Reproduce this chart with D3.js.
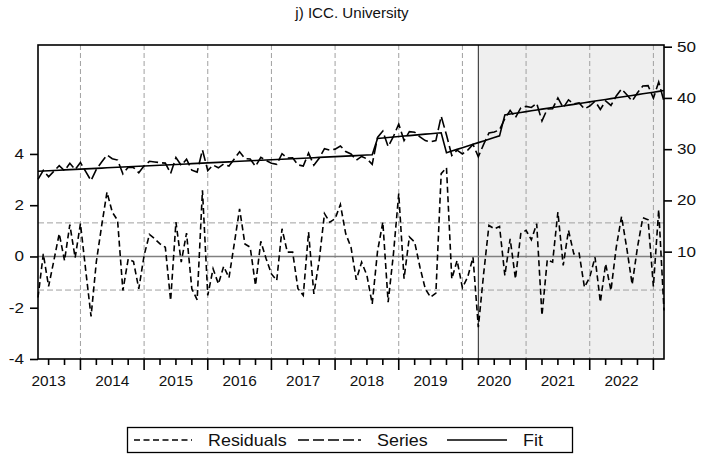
<!DOCTYPE html>
<html>
<head>
<meta charset="utf-8">
<script src="https://cdn.jsdelivr.net/npm/d3@7"></script>
<style>
  body { margin: 0; background: #fff; }
  text { font-family: "Liberation Sans", Arial, sans-serif; fill: #111; }
</style>
</head>
<body>
<div id="chart"></div>
<script>
// monthly observations, first one is 2013M05
var startYear = 2013, startMonth = 5;

var residuals = [-1.6, 0.1, -1.17, -0.15, 0.89, -0.16, 1.24, -0.05, 1.28, -0.55,
  -2.34, -0.2, 1.2, 2.51, 1.73, 1.41, -1.33, -0.1, -0.2, -1.26,
  0.04, 0.86, 0.69, 0.49, 0.36, -1.72, 1.34, -0.22, 0.91, -1.26,
  -1.69, 2.58, -1.52, -0.48, -1.07, -0.39, -0.83, 0.5, 1.86, 0.49,
  0.36, -1.13, 0.59, -0.09, -0.68, -0.94, 1.08, 0.17, 0.17, -1.26,
  -1.52, 0.95, -1.46, -0.16, 1.67, 1.34, 1.47, 2.03, 0.89, 0.36,
  -0.91, -0.22, -0.74, -1.85, 0.2, 1.34, -1.78, 0.1, 2.45, -0.87,
  0.76, 0.56, -0.42, -1.26, -1.59, -1.43, 3.23, 3.46, -0.87, -0.16,
  -1.22, -0.8, -0.03, -2.76, -0.68, 1.21, 1.08, 1.17, -0.74, 0.69,
  -0.87, 0.89, 1.02, 0.65, 1.28, -2.3, -0.13, -0.22, 1.73, -0.35,
  1.02, 0.1, 0.13, -1.2, -0.81, -0.03, -1.78, -0.29, -1.33, 0.36,
  1.56, 0.3, -1.09, 0.36, 1.51, 1.43, -1.17, 1.82, -2.11];

var series = [24.10, 25.85, 24.63, 25.70, 26.79, 25.79, 27.24, 26.01, 27.39, 25.61,
  23.87, 26.06, 27.51, 28.87, 28.14, 27.87, 25.18, 26.46, 26.41, 25.41,
  26.76, 27.63, 27.51, 27.36, 27.28, 25.25, 28.36, 26.85, 28.03, 25.91,
  25.53, 29.85, 25.81, 26.90, 26.36, 27.09, 26.70, 28.08, 29.49, 28.17,
  28.09, 26.65, 28.42, 27.79, 27.26, 27.05, 29.12, 28.26, 28.31, 26.93,
  26.72, 29.24, 26.88, 28.23, 30.11, 29.83, 30.01, 30.63, 29.54, 29.06,
  27.84, 28.58, 28.11, 27.05, 32.30, 33.53, 30.50, 32.48, 34.92, 31.69,
  33.41, 33.30, 32.41, 31.67, 31.43, 31.68, 36.43, 32.76, 28.76, 29.80,
  29.07, 29.82, 30.92, 28.52, 30.93, 33.15, 33.35, 33.77, 35.96, 37.55,
  36.15, 38.06, 38.35, 38.14, 38.93, 35.51, 37.83, 37.90, 40.01, 38.09,
  39.62, 38.85, 39.04, 37.87, 38.42, 39.36, 37.76, 39.41, 38.53, 40.38,
  41.74, 40.63, 39.40, 41.01, 42.32, 42.40, 39.95, 43.10, 39.33];

var fit = [25.70, 25.75, 25.80, 25.85, 25.90, 25.95, 26.00, 26.06, 26.11, 26.16,
  26.21, 26.26, 26.31, 26.36, 26.41, 26.46, 26.51, 26.56, 26.61, 26.67,
  26.72, 26.77, 26.82, 26.87, 26.92, 26.97, 27.02, 27.07, 27.12, 27.17,
  27.22, 27.27, 27.33, 27.38, 27.43, 27.48, 27.53, 27.58, 27.63, 27.68,
  27.73, 27.78, 27.83, 27.88, 27.94, 27.99, 28.04, 28.09, 28.14, 28.19,
  28.24, 28.29, 28.34, 28.39, 28.44, 28.49, 28.54, 28.60, 28.65, 28.70,
  28.75, 28.80, 28.85, 28.90, 32.10, 32.19, 32.28, 32.38, 32.47, 32.56,
  32.65, 32.74, 32.83, 32.93, 33.02, 33.11, 33.20, 29.30, 29.63, 29.96,
  30.29, 30.62, 30.95, 31.28, 31.61, 31.94, 32.27, 32.60, 36.70, 36.86,
  37.02, 37.17, 37.33, 37.49, 37.65, 37.81, 37.96, 38.12, 38.28, 38.44,
  38.60, 38.75, 38.91, 39.07, 39.23, 39.39, 39.54, 39.70, 39.86, 40.02,
  40.18, 40.33, 40.49, 40.65, 40.81, 40.97, 41.12, 41.28, 41.44];

var leftTicks = [-4, -2, 0, 2, 4];
var rightTicks = [10, 20, 30, 40, 50];
var yearLabels = [2013, 2014, 2015, 2016, 2017, 2018, 2019, 2020, 2021, 2022];
var seBand = 1.31;          // +/- 1 S.E. lines
var shadeFrom = "2020-04";  // forecast period start

var W = 703, H = 463;
var pLeft = 38, pRight = 664, pTop = 45, pBottom = 359;

// month index -> "YYYY-MM"
var months = residuals.map(function(d, i) {
  var m = startMonth - 1 + i;
  var yy = startYear + Math.floor(m / 12), mm = (m % 12) + 1;
  return { i: i, year: yy, month: mm, key: yy + "-" + (mm < 10 ? "0" : "") + mm };
});

var x = d3.scaleLinear().domain([0, residuals.length - 1]).range([pLeft, pRight]);
var yL = d3.scaleLinear().domain([-4, 8.25]).range([pBottom, pTop]);
var yR = d3.scaleLinear().domain([-10.95, 50.33]).range([pBottom, pTop]);

// the original's lettering is a little wider than Liberation Sans
function widen(sel, sx) {
  sel.each(function() {
    var t = d3.select(this);
    var tx = +t.attr("x") || 0, ty = +t.attr("y") || 0;
    t.attr("transform", (t.attr("transform") || "") +
      " translate(" + tx + "," + ty + ") scale(" + sx + ",1) translate(" + (-tx) + "," + (-ty) + ")");
  });
}

var svg = d3.select("#chart").append("svg")
  .attr("width", W)
  .attr("height", H);

svg.append("text")
  .attr("x", 352)
  .attr("y", 18)
  .attr("text-anchor", "middle")
  .style("font-size", "14px")
  .text("j)  ICC. University")
  .call(widen, 1.08);

// shaded forecast period
var shadeIdx = months.find(function(m) { return m.key === shadeFrom; }).i;
svg.append("rect")
  .attr("x", x(shadeIdx))
  .attr("y", pTop)
  .attr("width", pRight - x(shadeIdx))
  .attr("height", pBottom - pTop)
  .attr("fill", "#efefef");
svg.append("line")
  .attr("x1", x(shadeIdx)).attr("x2", x(shadeIdx))
  .attr("y1", pTop).attr("y2", pBottom)
  .attr("stroke", "#222")
  .attr("stroke-width", 1);

// year gridlines (January)
var januaries = months.filter(function(m) { return m.month === 1; });
svg.selectAll(".vgrid")
  .data(januaries)
  .enter().append("line")
  .attr("class", "vgrid")
  .attr("x1", function(d) { return x(d.i); })
  .attr("x2", function(d) { return x(d.i); })
  .attr("y1", pTop).attr("y2", pBottom)
  .attr("stroke", "#a0a0a0")
  .attr("stroke-width", 1)
  .attr("stroke-dasharray", "5,3");

// S.E. band and zero line
svg.selectAll(".hgrid")
  .data([seBand, -seBand])
  .enter().append("line")
  .attr("x1", pLeft).attr("x2", pRight)
  .attr("y1", function(d) { return yL(d); })
  .attr("y2", function(d) { return yL(d); })
  .attr("stroke", "#a0a0a0")
  .attr("stroke-width", 1)
  .attr("stroke-dasharray", "6,3");

svg.append("line")
  .attr("x1", pLeft).attr("x2", pRight)
  .attr("y1", yL(0)).attr("y2", yL(0))
  .attr("stroke", "#808080")
  .attr("stroke-width", 1.5);

// lines
var lineL = d3.line()
  .x(function(d, i) { return x(i); })
  .y(function(d) { return yL(d); });
var lineR = d3.line()
  .x(function(d, i) { return x(i); })
  .y(function(d) { return yR(d); });

svg.append("path")
  .attr("d", lineL(residuals))
  .attr("fill", "none")
  .attr("stroke", "#000")
  .attr("stroke-width", 1.6)
  .attr("stroke-dasharray", "6,3.5");

svg.append("path")
  .attr("d", lineR(series))
  .attr("fill", "none")
  .attr("stroke", "#000")
  .attr("stroke-width", 1.6)
  .attr("stroke-dasharray", "11,4");

svg.append("path")
  .attr("d", lineR(fit))
  .attr("fill", "none")
  .attr("stroke", "#000")
  .attr("stroke-width", 1.6);

// frame
svg.append("rect")
  .attr("x", pLeft).attr("y", pTop)
  .attr("width", pRight - pLeft).attr("height", pBottom - pTop)
  .attr("fill", "none")
  .attr("stroke", "#000")
  .attr("stroke-width", 1.6);

// left axis
var axL = d3.axisLeft(yL).tickValues(leftTicks).tickSize(8).tickPadding(6)
  .tickFormat(d3.format("d"));
var gL = svg.append("g")
  .attr("transform", "translate(" + pLeft + ",0)")
  .call(axL);

// right axis
var axR = d3.axisRight(yR).tickValues(rightTicks).tickSize(8).tickPadding(5);
var gR = svg.append("g")
  .attr("transform", "translate(" + pRight + ",0)")
  .call(axR);

[gL, gR].forEach(function(g) {
  g.select(".domain").remove();
  g.selectAll(".tick line").attr("stroke", "#000").attr("stroke-width", 1.6);
  g.selectAll(".tick text").style("font-size", "14px")
    .style("font-family", "'Liberation Sans', Arial, sans-serif").attr("fill", "#111");
});
gL.selectAll(".tick text").text(function(d) { return d < 0 ? "-" + Math.abs(d) : d; });
widen(gL.selectAll(".tick text"), 1.22);
widen(gR.selectAll(".tick text"), 1.22);

// bottom axis: quarter ticks, year ticks, year labels
var quarters = months.filter(function(m) { return (m.month - 1) % 3 === 0; });
svg.selectAll(".qtick")
  .data(quarters)
  .enter().append("line")
  .attr("x1", function(d) { return x(d.i); })
  .attr("x2", function(d) { return x(d.i); })
  .attr("y1", pBottom)
  .attr("y2", function(d) { return pBottom + (d.month === 1 ? 11 : 6); })
  .attr("stroke", "#000")
  .attr("stroke-width", 1.6);

svg.selectAll(".ylab")
  .data(yearLabels)
  .enter().append("text")
  .attr("x", function(d) {
    var jul = months.find(function(m) { return m.year === d && m.month === 7; });
    return x(jul.i);
  })
  .attr("y", 386)
  .attr("text-anchor", "middle")
  .style("font-size", "14px")
  .text(function(d) { return d; })
  .call(widen, 1.1);

// legend
var lg = svg.append("g");
lg.append("rect")
  .attr("x", 127.5).attr("y", 427.5)
  .attr("width", 445).attr("height", 25)
  .attr("fill", "#fff")
  .attr("stroke", "#000")
  .attr("stroke-width", 1.3);

var legendItems = [
  { label: "Residuals", x1: 134, x2: 192, tx: 208, dash: "6,3.5" },
  { label: "Series", x1: 298, x2: 361, tx: 377, dash: "11,4" },
  { label: "Fit", x1: 447, x2: 507, tx: 523, dash: null }
];
legendItems.forEach(function(d) {
  lg.append("line")
    .attr("x1", d.x1).attr("x2", d.x2)
    .attr("y1", 440).attr("y2", 440)
    .attr("stroke", "#000")
    .attr("stroke-width", 1.6)
    .attr("stroke-dasharray", d.dash);
  lg.append("text")
    .attr("x", d.tx).attr("y", 446)
    .style("font-size", "16px")
    .text(d.label)
    .call(widen, 1.12);
});
</script>
</body>
</html>
